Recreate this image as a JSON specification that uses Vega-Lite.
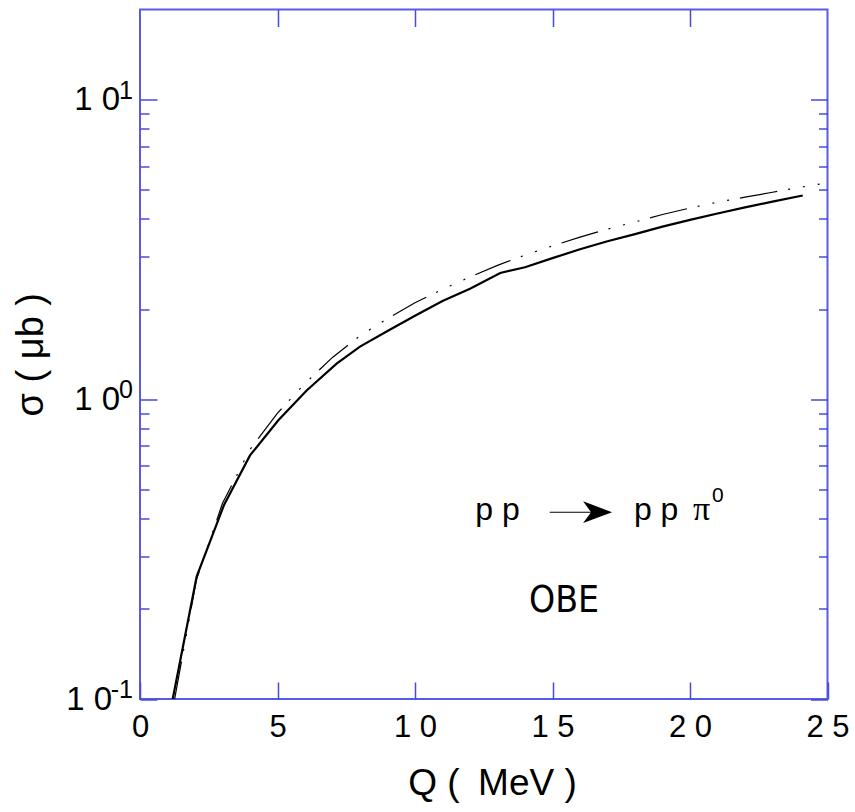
{
  "$schema": "https://vega.github.io/schema/vega-lite/v6.json",
  "width": 687.5,
  "height": 689.5,
  "autosize": {"type": "none"},
  "padding": {"left": 140, "top": 9.5, "right": 27.5, "bottom": 113},
  "background": "white",
  "config": {
    "view": {"stroke": "#5a5ae6", "strokeWidth": 2},
    "font": "Liberation Sans",
    "axis": {"domain": false, "grid": false, "tickColor": "#4848dc", "tickWidth": 1.5, "labelFont": "Liberation Sans", "labelColor": "black", "titleFont": "Liberation Sans", "titleFontWeight": "normal", "titleColor": "black", "labelFlush": false, "labelOverlap": false, "labelBound": false}
  },
  "datasets": {
    "curves": [
      {"Q": 1.19, "sigma": 0.1, "curve": "full"},
      {"Q": 2.06, "sigma": 0.256, "curve": "full"},
      {"Q": 3.05, "sigma": 0.443, "curve": "full"},
      {"Q": 4.0, "sigma": 0.65, "curve": "full"},
      {"Q": 5.03, "sigma": 0.851, "curve": "full"},
      {"Q": 6.06, "sigma": 1.07, "curve": "full"},
      {"Q": 7.15, "sigma": 1.315, "curve": "full"},
      {"Q": 8.0, "sigma": 1.5, "curve": "full"},
      {"Q": 9.0, "sigma": 1.69, "curve": "full"},
      {"Q": 10.0, "sigma": 1.9, "curve": "full"},
      {"Q": 11.0, "sigma": 2.13, "curve": "full"},
      {"Q": 12.0, "sigma": 2.34, "curve": "full"},
      {"Q": 13.1, "sigma": 2.64, "curve": "full"},
      {"Q": 14.0, "sigma": 2.76, "curve": "full"},
      {"Q": 15.0, "sigma": 2.96, "curve": "full"},
      {"Q": 16.0, "sigma": 3.17, "curve": "full"},
      {"Q": 17.0, "sigma": 3.37, "curve": "full"},
      {"Q": 18.0, "sigma": 3.56, "curve": "full"},
      {"Q": 19.0, "sigma": 3.77, "curve": "full"},
      {"Q": 20.0, "sigma": 3.97, "curve": "full"},
      {"Q": 21.0, "sigma": 4.17, "curve": "full"},
      {"Q": 22.0, "sigma": 4.37, "curve": "full"},
      {"Q": 23.0, "sigma": 4.57, "curve": "full"},
      {"Q": 24.1, "sigma": 4.79, "curve": "full"},
      {"Q": 1.26, "sigma": 0.1, "curve": "alt"},
      {"Q": 2.05, "sigma": 0.25, "curve": "alt"},
      {"Q": 3.0, "sigma": 0.45, "curve": "alt"},
      {"Q": 4.0, "sigma": 0.68, "curve": "alt"},
      {"Q": 5.0, "sigma": 0.9, "curve": "alt"},
      {"Q": 6.0, "sigma": 1.13, "curve": "alt"},
      {"Q": 7.0, "sigma": 1.38, "curve": "alt"},
      {"Q": 8.0, "sigma": 1.63, "curve": "alt"},
      {"Q": 9.0, "sigma": 1.86, "curve": "alt"},
      {"Q": 10.0, "sigma": 2.1, "curve": "alt"},
      {"Q": 11.0, "sigma": 2.33, "curve": "alt"},
      {"Q": 12.0, "sigma": 2.56, "curve": "alt"},
      {"Q": 13.0, "sigma": 2.8, "curve": "alt"},
      {"Q": 14.0, "sigma": 3.03, "curve": "alt"},
      {"Q": 15.0, "sigma": 3.25, "curve": "alt"},
      {"Q": 16.0, "sigma": 3.48, "curve": "alt"},
      {"Q": 17.0, "sigma": 3.7, "curve": "alt"},
      {"Q": 18.0, "sigma": 3.91, "curve": "alt"},
      {"Q": 19.0, "sigma": 4.14, "curve": "alt"},
      {"Q": 20.0, "sigma": 4.35, "curve": "alt"},
      {"Q": 21.0, "sigma": 4.55, "curve": "alt"},
      {"Q": 22.0, "sigma": 4.73, "curve": "alt"},
      {"Q": 23.0, "sigma": 4.91, "curve": "alt"},
      {"Q": 24.0, "sigma": 5.1, "curve": "alt"},
      {"Q": 25.0, "sigma": 5.28, "curve": "alt"}
    ],
    "exponents": [
      {"sigma": 10, "sup": "1"},
      {"sigma": 1, "sup": "0"},
      {"sigma": 0.1, "sup": "-1"}
    ],
    "one": [{}]
  },
  "layer": [
    {
      "data": {"name": "curves"},
      "transform": [{"filter": "datum.curve === 'full'"}],
      "mark": {"type": "line", "color": "black", "strokeWidth": 2.2, "clip": true},
      "encoding": {
        "x": {"field": "Q", "type": "quantitative", "scale": {"domain": [0, 25], "nice": false, "zero": false},
          "axis": {"orient": "bottom", "values": [0, 5, 10, 15, 20, 25], "tickSize": -17, "labelFontSize": 31, "labelPadding": 30,
            "labelExpr": "datum.value < 10 ? datum.label : slice(datum.label, 0, 1) + ' ' + slice(datum.label, 1)",
            "title": "Q (\u2002MeV )", "titleFontSize": 37, "titlePadding": 23, "titleX": 352, "titleAlign": "center"}},
        "y": {"field": "sigma", "type": "quantitative", "scale": {"type": "log", "domain": [0.1, 20], "nice": false},
          "axis": {"orient": "left", "values": [0.1, 0.2, 0.3, 0.4, 0.5, 0.6, 0.7, 0.8, 0.9, 1, 2, 3, 4, 5, 6, 7, 8, 9, 10],
            "tickSize": {"condition": {"test": "datum.value == 0.1 || datum.value == 1 || datum.value == 10", "value": -17}, "value": -9},
            "labelFontSize": 33, "labelAlign": "right", "labelBaseline": "middle",
            "labelPadding": {"condition": {"test": "datum.value < 0.5", "value": 45.5}, "value": 37.5},
            "labelExpr": "(datum.value == 0.1 || datum.value == 1 || datum.value == 10) ? '1 0' : ''",
            "title": "σ ( μb )", "titleFontSize": 38, "titlePadding": 15}}
      }
    },
    {
      "data": {"name": "curves"},
      "transform": [{"filter": "datum.curve === 'alt'"}],
      "mark": {"type": "line", "color": "black", "strokeWidth": 1.2, "strokeDash": [38, 11, 2, 13, 2, 13, 2, 11], "clip": true},
      "encoding": {
        "x": {"field": "Q", "type": "quantitative",
          "axis": {"orient": "top", "values": [5, 10, 15, 20], "tickSize": -17, "labels": false, "title": null}},
        "y": {"field": "sigma", "type": "quantitative",
          "axis": {"orient": "right", "values": [0.1, 0.2, 0.3, 0.4, 0.5, 0.6, 0.7, 0.8, 0.9, 1, 2, 3, 4, 5, 6, 7, 8, 9, 10],
            "tickSize": {"condition": {"test": "datum.value == 0.1 || datum.value == 1 || datum.value == 10", "value": -17}, "value": -9},
            "labels": false, "title": null}}
      }
    },
    {
      "data": {"name": "exponents"},
      "mark": {"type": "text", "fontSize": 25, "align": "right", "baseline": "alphabetic", "dx": -7, "dy": -1, "font": "Liberation Sans"},
      "encoding": {
        "x": {"datum": 0, "type": "quantitative", "axis": null},
        "y": {"field": "sigma", "type": "quantitative", "axis": null},
        "text": {"field": "sup"}
      }
    },
    {
      "data": {"name": "one"},
      "mark": {"type": "text", "text": "p p", "fontSize": 32, "align": "center", "baseline": "alphabetic", "font": "Liberation Sans"},
      "encoding": {
        "x": {"datum": 13.0, "type": "quantitative", "axis": null},
        "y": {"datum": 0.395, "type": "quantitative", "axis": null}
      }
    },
    {
      "data": {"name": "one"},
      "mark": {"type": "rule", "color": "black", "strokeWidth": 1.2},
      "encoding": {
        "x": {"datum": 14.9, "type": "quantitative", "axis": null},
        "x2": {"datum": 16.6},
        "y": {"datum": 0.42, "type": "quantitative", "axis": null}
      }
    },
    {
      "data": {"name": "one"},
      "mark": {"type": "point", "shape": "M1,0 L-1,-0.75 L-0.45,0 L-1,0.75 Z", "filled": true, "color": "black", "opacity": 1, "size": 841, "strokeWidth": 0},
      "encoding": {
        "x": {"datum": 16.64, "type": "quantitative", "axis": null},
        "y": {"datum": 0.42, "type": "quantitative", "axis": null}
      }
    },
    {
      "data": {"name": "one"},
      "mark": {"type": "text", "text": "p p", "fontSize": 32, "align": "left", "baseline": "alphabetic", "font": "Liberation Sans"},
      "encoding": {
        "x": {"datum": 17.96, "type": "quantitative", "axis": null},
        "y": {"datum": 0.395, "type": "quantitative", "axis": null}
      }
    },
    {
      "data": {"name": "one"},
      "mark": {"type": "text", "text": "π", "fontSize": 34, "align": "left", "baseline": "alphabetic", "font": "Liberation Serif"},
      "encoding": {
        "x": {"datum": 20.11, "type": "quantitative", "axis": null},
        "y": {"datum": 0.395, "type": "quantitative", "axis": null}
      }
    },
    {
      "data": {"name": "one"},
      "mark": {"type": "text", "text": "0", "fontSize": 21, "align": "left", "baseline": "alphabetic", "font": "Liberation Sans"},
      "encoding": {
        "x": {"datum": 20.8, "type": "quantitative", "axis": null},
        "y": {"datum": 0.454, "type": "quantitative", "axis": null}
      }
    },
    {
      "data": {"name": "one"},
      "mark": {"type": "text", "text": "OBE", "fontSize": 37, "align": "center", "baseline": "alphabetic", "font": "'Liberation Sans Narrow', 'Arial Narrow', 'DejaVu Sans Condensed', 'Liberation Sans'"},
      "encoding": {
        "x": {"datum": 15.42, "type": "quantitative", "axis": null},
        "y": {"datum": 0.1954, "type": "quantitative", "axis": null}
      }
    }
  ],
  "resolve": {"axis": {"x": "independent", "y": "independent"}}
}
